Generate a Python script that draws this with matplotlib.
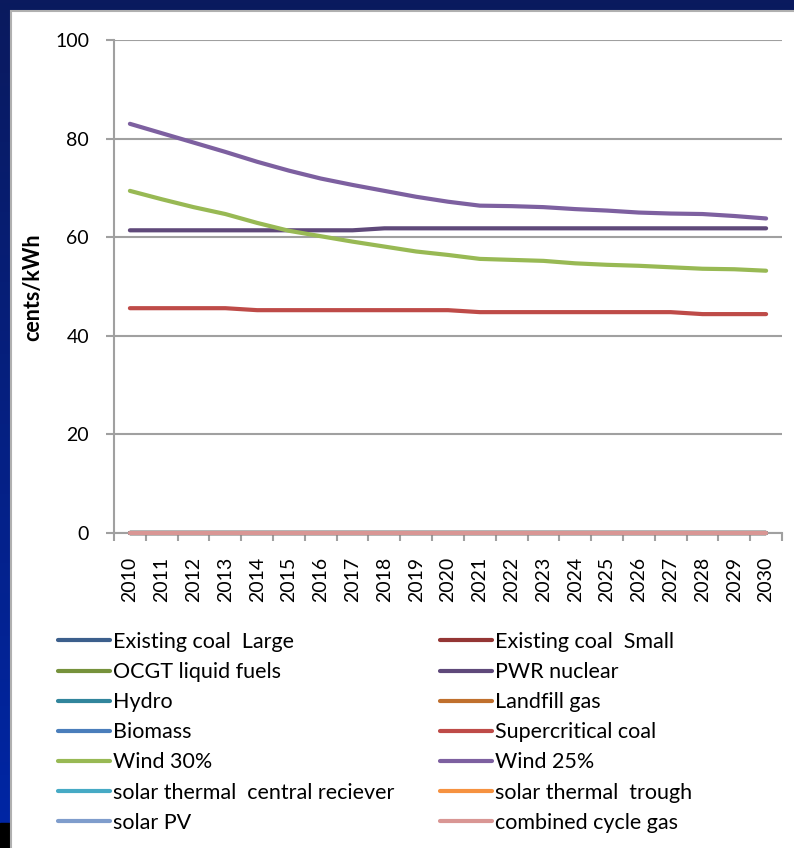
import numpy as np
import matplotlib as mpl
import matplotlib.pyplot as plt
from matplotlib.patches import Rectangle

mpl.use('Agg')
plt.rcParams['font.family'] = ['Lato', 'DejaVu Sans']

W, H = 794, 848

years = [str(y) for y in range(2010, 2031)]

series_names = [
    "Existing coal  Large", "Existing coal  Small",
    "OCGT liquid fuels", "PWR nuclear",
    "Hydro", "Landfill gas",
    "Biomass", "Supercritical coal",
    "Wind 30%", "Wind 25%",
    "solar thermal  central reciever", "solar thermal  trough",
    "solar PV", "combined cycle gas",
]
series_colors = [
    "#3c5f8c", "#943634",
    "#76923c", "#5f497a",
    "#31859c", "#c0702e",
    "#4a7ebb", "#be4b48",
    "#98b954", "#7d60a0",
    "#46aac5", "#f69240",
    "#7f9dcc", "#d99694",
]

zeros = [0] * 21
pwr_nuclear = [61.4, 61.4, 61.4, 61.4, 61.4, 61.4, 61.4, 61.4, 61.8, 61.8, 61.8,
               61.8, 61.8, 61.8, 61.8, 61.8, 61.8, 61.8, 61.8, 61.8, 61.8]
supercritical_coal = [45.6, 45.6, 45.6, 45.6, 45.2, 45.2, 45.2, 45.2, 45.2, 45.2, 45.2,
                      44.8, 44.8, 44.8, 44.8, 44.8, 44.8, 44.8, 44.4, 44.4, 44.4]
wind_30 = [69.4, 67.7, 66.1, 64.7, 62.9, 61.3, 60.2, 59.1, 58.1, 57.1, 56.4,
           55.6, 55.4, 55.2, 54.7, 54.4, 54.2, 53.9, 53.6, 53.5, 53.2]
wind_25 = [83.0, 81.1, 79.2, 77.3, 75.3, 73.5, 71.9, 70.6, 69.4, 68.2, 67.2,
           66.4, 66.3, 66.1, 65.7, 65.4, 65.0, 64.8, 64.7, 64.3, 63.8]

series_values = [
    zeros, zeros,
    zeros, pwr_nuclear,
    zeros, zeros,
    zeros, supercritical_coal,
    wind_30, wind_25,
    zeros, zeros,
    zeros, zeros,
]


def fx(x):
    return x / W


def fy(y):
    return 1 - y / H


fig = plt.figure(figsize=(W / 100, H / 100), dpi=100)

# dark blue slide background
bg = fig.add_axes([0, 0, 1, 1], zorder=-10)
grad = np.linspace(0, 1, 256).reshape(-1, 1)
cmap = mpl.colors.LinearSegmentedColormap.from_list("bg", ["#0a1a5e", "#0026a6"])
bg.imshow(grad, aspect='auto', cmap=cmap, extent=[0, W, H, 0])
bg.add_patch(Rectangle((0, 823), 10, 25, color="black"))
bg.add_patch(Rectangle((11, 11), W + 10, H, facecolor="white", edgecolor="#b0b0b0", lw=1.5))
bg.set_xlim(0, W)
bg.set_ylim(H, 0)
bg.axis('off')

ax = fig.add_axes([fx(114), fy(533), fx(782) - fx(114), fy(40) - fy(533)])
x = np.arange(len(years))
lines = []
for name, vals, col in zip(series_names, series_values, series_colors):
    ln, = ax.plot(x, vals, color=col, lw=3, solid_capstyle='round', label=name,
                  zorder=3, clip_on=False)
    lines.append(ln)

ax.set_xlim(-0.5, 20.5)
ax.set_ylim(0, 100)
ax.set_yticks([0, 20, 40, 60, 80, 100])
ax.yaxis.grid(True, color="#a0a0a0", lw=1.5)
ax.set_axisbelow(True)
for s in ['top', 'right']:
    ax.spines[s].set_visible(False)
for s in ['left', 'bottom']:
    ax.spines[s].set_color("#a0a0a0")
    ax.spines[s].set_linewidth(1.5)
    ax.spines[s].set_zorder(1)

ax.set_xticks(x)
ax.set_xticklabels(years, rotation=90, fontsize=14)
ax.tick_params(axis='x', which='major', length=0, pad=17)
ax.set_xticks(np.arange(-0.5, 21, 1), minor=True)
ax.tick_params(axis='x', which='minor', length=6, width=1.5, color="#a0a0a0")
ax.tick_params(axis='y', length=6, width=1.5, color="#a0a0a0", labelsize=14, pad=12)

fig.text(fx(33), fy(287), "cents/kWh", rotation=90, fontsize=15.5, fontweight='bold',
         ha='center', va='center')

# legend, two columns filled row by row like the original
left_h = [lines[i] for i in range(0, 14, 2)]
right_h = [lines[i] for i in range(1, 14, 2)]
kw = dict(frameon=False, fontsize=15.5, handlelength=2.4, handletextpad=0.15,
          labelspacing=0.47, borderpad=0, borderaxespad=0, loc='upper left')
leg1 = fig.legend(left_h, [h.get_label() for h in left_h],
                  bbox_to_anchor=(fx(58), fy(632)), **kw)
leg2 = fig.legend(right_h, [h.get_label() for h in right_h],
                  bbox_to_anchor=(fx(440), fy(632)), **kw)

fig.savefig("out.png", dpi=100)
